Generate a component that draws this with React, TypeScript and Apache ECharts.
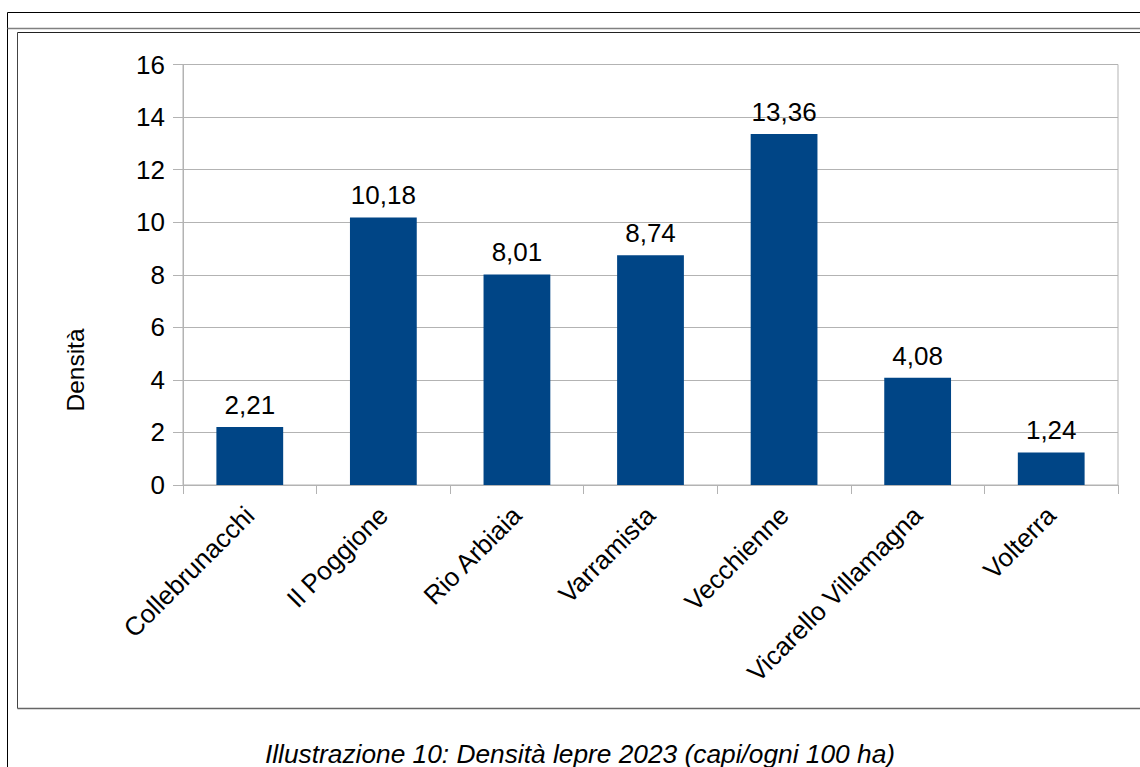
import React, { useEffect, useRef } from "react";
import * as echarts from "echarts";

const categories = [
  "Collebrunacchi",
  "Il Poggione",
  "Rio Arbiaia",
  "Varramista",
  "Vecchienne",
  "Vicarello Villamagna",
  "Volterra",
];
const densita = [2.21, 10.18, 8.01, 8.74, 13.36, 4.08, 1.24];
const yAxisName = "Densità";
const caption = "Illustrazione 10: Densità lepre 2023 (capi/ogni 100 ha)";

const FONT = "'Liberation Sans', Arial, sans-serif";

export default function App() {
  const ref = useRef<HTMLDivElement>(null);
  useEffect(() => {
    document.body.style.margin = "0";
    const chart = echarts.init(ref.current!, null, { renderer: "svg" });
    const gridLine = "#b3b3b3";
    chart.setOption({
      animation: false,
      backgroundColor: "#ffffff",
      textStyle: { fontFamily: FONT },
      grid: { left: 183, top: 64.5, right: 22, bottom: 282, containLabel: false, show: true, borderColor: gridLine, borderWidth: 1 },
      xAxis: {
        type: "category",
        data: categories,
        boundaryGap: true,
        axisLine: { show: true, lineStyle: { color: gridLine, width: 1 } },
        axisTick: { show: true, alignWithLabel: false, length: 9, lineStyle: { color: gridLine } },
        axisLabel: { rotate: 45, fontSize: 26, color: "#000", fontFamily: FONT, margin: 26, interval: 0 },
      },
      yAxis: {
        type: "value",
        min: 0,
        max: 16,
        interval: 2,
        axisLine: { show: true, lineStyle: { color: gridLine, width: 1 } },
        axisTick: { show: true, length: 10, lineStyle: { color: gridLine } },
        axisLabel: { fontSize: 26, color: "#000", fontFamily: FONT, margin: 18 },
        splitLine: { show: true, lineStyle: { color: gridLine, width: 1 } },
      },
      series: [
        {
          type: "bar",
          data: densita,
          barWidth: "50%",
          itemStyle: { color: "#004586" },
          label: {
            show: true,
            position: "top",
            distance: 9,
            fontSize: 26,
            color: "#000",
            fontFamily: FONT,
            formatter: (p: any) => p.value.toFixed(2).replace(".", ","),
          },
        },
      ],
      graphic: [
        { type: "line", shape: { x1: 7.5, y1: 12.5, x2: 1140, y2: 12.5 }, style: { stroke: "#000", lineWidth: 1 } },
        { type: "line", shape: { x1: 7.5, y1: 12.5, x2: 7.5, y2: 767 }, style: { stroke: "#000", lineWidth: 1 } },
        { type: "line", shape: { x1: 7.5, y1: 28.5, x2: 1140, y2: 28.5 }, style: { stroke: "#808080", lineWidth: 1.5 } },
        { type: "line", shape: { x1: 17.5, y1: 32.5, x2: 1140, y2: 32.5 }, style: { stroke: "#222", lineWidth: 1 } },
        { type: "line", shape: { x1: 17.5, y1: 32.5, x2: 17.5, y2: 708.5 }, style: { stroke: "#444", lineWidth: 1 } },
        { type: "line", shape: { x1: 17.5, y1: 708.5, x2: 1140, y2: 708.5 }, style: { stroke: "#666", lineWidth: 1.5 } },
        {
          type: "text",
          x: 75,
          y: 370,
          rotation: Math.PI / 2,
          style: { text: yAxisName, fontSize: 24.5, fontFamily: FONT, fill: "#000", align: "center", verticalAlign: "middle" },
        },
        {
          type: "text",
          x: 580,
          y: 754,
          style: { text: caption, fontSize: 26.3, fontStyle: "italic", fontFamily: FONT, fill: "#000", align: "center", verticalAlign: "middle" },
        },
      ],
    });
    return () => chart.dispose();
  }, []);
  return <div ref={ref} style={{ width: 1140, height: 767 }} />;
}
